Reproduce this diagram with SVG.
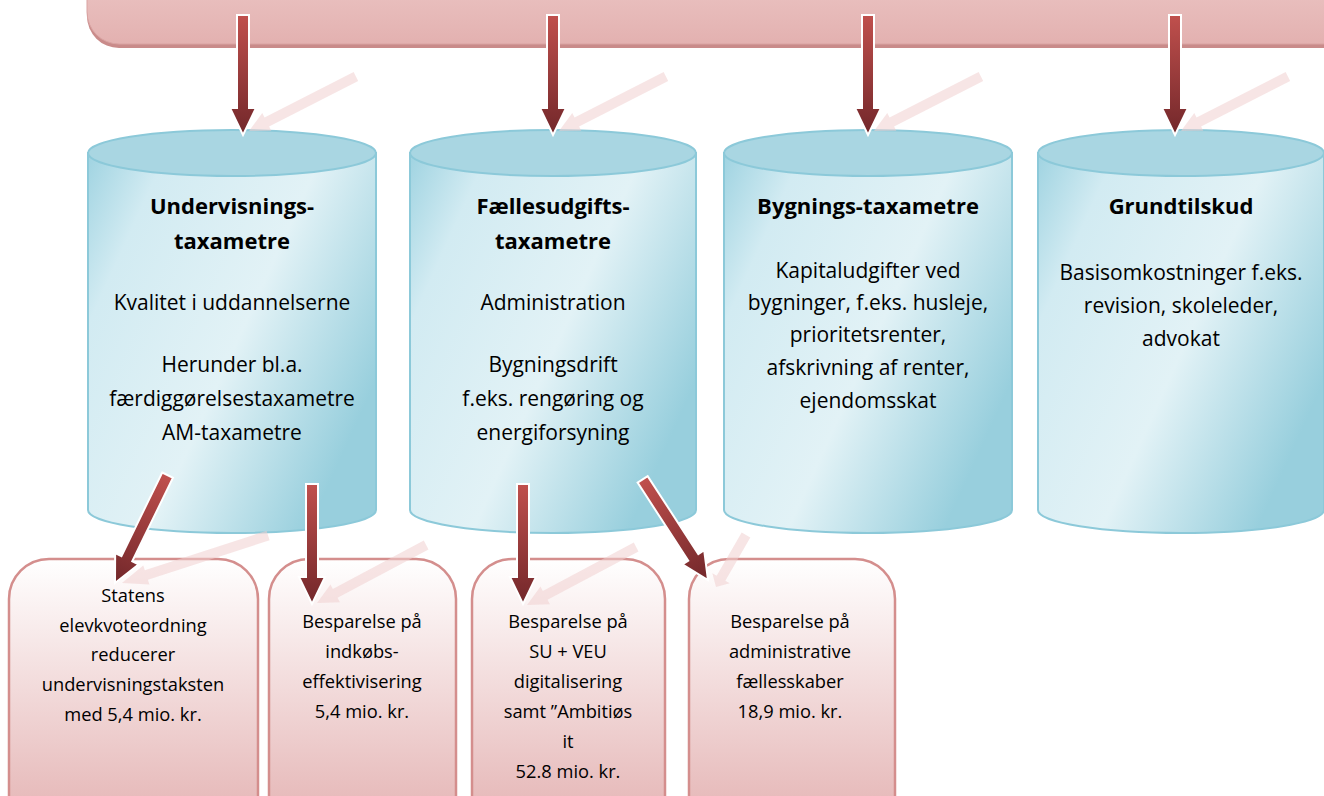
<svg xmlns="http://www.w3.org/2000/svg" width="1324" height="796" viewBox="0 0 1324 796">
<defs>
<linearGradient id="barG" x1="0" y1="0" x2="0" y2="1">
<stop offset="0" stop-color="#edc9c8"/><stop offset="1" stop-color="#e3b1b0"/>
</linearGradient>
<linearGradient id="cylG" x1="0" y1="0" x2="1" y2="0.6">
<stop offset="0" stop-color="#9fd3e1"/><stop offset="0.2" stop-color="#d2ebf2"/><stop offset="0.6" stop-color="#e2f2f6"/><stop offset="1" stop-color="#98cfdd"/>
</linearGradient>
<linearGradient id="boxG" x1="0" y1="0" x2="0" y2="1">
<stop offset="0" stop-color="#ffffff"/><stop offset="1" stop-color="#e3b0b0"/>
</linearGradient>
<linearGradient id="arrG" x1="0" y1="0" x2="0" y2="1">
<stop offset="0" stop-color="#c0504d"/><stop offset="1" stop-color="#72272a"/>
</linearGradient>
<path id="arr" d="M-6,-120 H6 V-27 H13 L0,0 L-13,-27 H-6 Z"/>
<path id="refl" d="M-5,-120 H5 V-20 H10 L0,0 L-10,-20 H-5 Z"/>
</defs>
<style>
.cyl{fill:url(#cylG);stroke:#8cc9d9;stroke-width:2}
.cyltop{fill:#a9d6e2;stroke:#8cc9d9;stroke-width:2}
.box{fill:url(#boxG);stroke:#d48e8d;stroke-width:2.5}
.t{font-family:"Open Sans","Liberation Sans",sans-serif;font-size:21px;fill:#000;text-anchor:middle}
.b{font-weight:bold;font-size:22px}
.s{font-family:"Open Sans","Liberation Sans",sans-serif;font-size:18.3px;fill:#000;text-anchor:middle}
.a{fill:url(#arrG);stroke:#ffffff;stroke-width:2;stroke-linejoin:miter}
.r{fill:#f0cfcf;opacity:0.55}
</style>

<g id="topbar">
<rect x="87" y="-40" width="1290" height="88" rx="32" fill="#c98b8a"/>
<rect x="87" y="-40" width="1290" height="84" rx="32" fill="url(#barG)" stroke="#d9a3a2" stroke-width="1"/>
</g>

<g id="cyl1">
<path class="cyl" d="M88,153 V510 A144,23 0 0 0 376,510 V153 Z"/>
<ellipse class="cyltop" cx="232" cy="153" rx="144" ry="23"/>
<text class="t b" x="232" y="214">Undervisnings-</text>
<text class="t b" x="232" y="249">taxametre</text>
<text class="t" x="232" y="310">Kvalitet i uddannelserne</text>
<text class="t" x="232" y="372">Herunder bl.a.</text>
<text class="t" x="232" y="406">færdiggørelsestaxametre</text>
<text class="t" x="232" y="440">AM-taxametre</text>
</g>
<g id="cyl2">
<path class="cyl" d="M410,153 V510 A143,23 0 0 0 696,510 V153 Z"/>
<ellipse class="cyltop" cx="553" cy="153" rx="143" ry="23"/>
<text class="t b" x="553" y="214">Fællesudgifts-</text>
<text class="t b" x="553" y="249">taxametre</text>
<text class="t" x="553" y="310">Administration</text>
<text class="t" x="553" y="372">Bygningsdrift</text>
<text class="t" x="553" y="406">f.eks. rengøring og</text>
<text class="t" x="553" y="440">energiforsyning</text>
</g>
<g id="cyl3">
<path class="cyl" d="M724,153 V510 A144,23 0 0 0 1012,510 V153 Z"/>
<ellipse class="cyltop" cx="868" cy="153" rx="144" ry="23"/>
<text class="t b" x="868" y="214">Bygnings-taxametre</text>
<text class="t" x="868" y="278">Kapitaludgifter ved</text>
<text class="t" x="868" y="310">bygninger, f.eks. husleje,</text>
<text class="t" x="868" y="342">prioritetsrenter,</text>
<text class="t" x="868" y="375">afskrivning af renter,</text>
<text class="t" x="868" y="408">ejendomsskat</text>
</g>
<g id="cyl4">
<path class="cyl" d="M1038,153 V510 A143,23 0 0 0 1324,510 V153 Z"/>
<ellipse class="cyltop" cx="1181" cy="153" rx="143" ry="23"/>
<text class="t b" x="1181" y="214">Grundtilskud</text>
<text class="t" x="1181" y="280">Basisomkostninger f.eks.</text>
<text class="t" x="1181" y="313">revision, skoleleder,</text>
<text class="t" x="1181" y="346">advokat</text>
</g>

<g id="box1">
<rect class="box" x="9" y="559" width="249" height="280" rx="40"/>
<text class="s" x="133" y="602">Statens</text>
<text class="s" x="133" y="632">elevkvoteordning</text>
<text class="s" x="133" y="661">reducerer</text>
<text class="s" x="133" y="691">undervisningstaksten</text>
<text class="s" x="133" y="721">med 5,4 mio. kr.</text>
</g>
<g id="box2">
<rect class="box" x="269" y="559" width="187" height="280" rx="40"/>
<text class="s" x="362" y="628">Besparelse på</text>
<text class="s" x="362" y="658">indkøbs-</text>
<text class="s" x="362" y="688">effektivisering</text>
<text class="s" x="362" y="718">5,4 mio. kr.</text>
</g>
<g id="box3">
<rect class="box" x="472" y="559" width="193" height="280" rx="40"/>
<text class="s" x="568" y="628">Besparelse på</text>
<text class="s" x="568" y="658">SU + VEU</text>
<text class="s" x="568" y="688">digitalisering</text>
<text class="s" x="568" y="718">samt ”Ambitiøs</text>
<text class="s" x="568" y="748">it</text>
<text class="s" x="568" y="778">52.8 mio. kr.</text>
</g>
<g id="box4">
<rect class="box" x="689" y="559" width="206" height="280" rx="40"/>
<text class="s" x="790" y="628">Besparelse på</text>
<text class="s" x="790" y="658">administrative</text>
<text class="s" x="790" y="688">fællesskaber</text>
<text class="s" x="790" y="718">18,9 mio. kr.</text>
</g>

<g id="connectors">
<use href="#refl" class="r" transform="translate(249,131) rotate(63)"/>
<use href="#refl" class="r" transform="translate(559,131) rotate(63)"/>
<use href="#refl" class="r" transform="translate(874,131) rotate(63)"/>
<use href="#refl" class="r" transform="translate(1181,131) rotate(63)"/>
<use href="#refl" class="r" transform="translate(122,583) rotate(72) scale(1,1.28)"/>
<use href="#refl" class="r" transform="translate(317,603) rotate(62) scale(1,1.03)"/>
<use href="#refl" class="r" transform="translate(527,605) rotate(62) scale(1,1.03)"/>
<use href="#refl" class="r" transform="translate(716,587) rotate(30) scale(1,0.5)"/>

<use href="#arr" class="a" transform="translate(243,135)"/>
<use href="#arr" class="a" transform="translate(553,135)"/>
<use href="#arr" class="a" transform="translate(868,135)"/>
<use href="#arr" class="a" transform="translate(1175,135)"/>
<use href="#arr" class="a" transform="translate(115,583) rotate(26)"/>
<use href="#arr" class="a" transform="translate(312,604)"/>
<use href="#arr" class="a" transform="translate(523,604)"/>
<use href="#arr" class="a" transform="translate(708,580) rotate(-33)"/>
</g>
</svg>
